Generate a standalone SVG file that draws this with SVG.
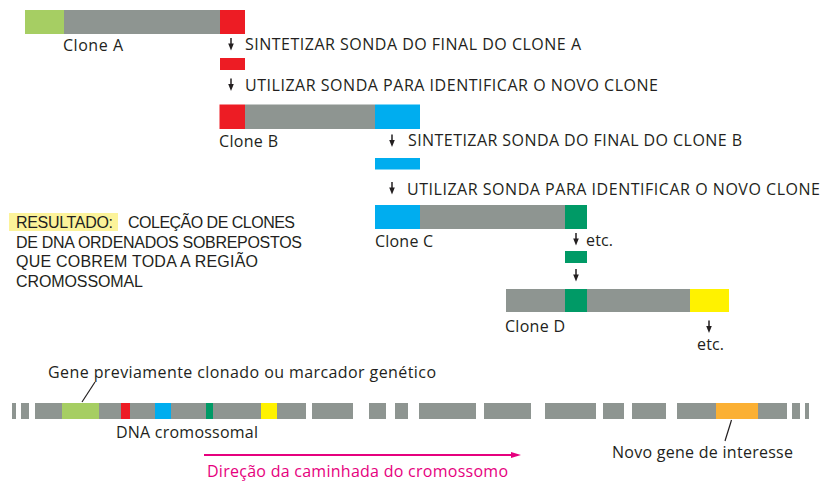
<svg xmlns="http://www.w3.org/2000/svg" width="821" height="482" viewBox="0 0 821 482">
<style>
text{font-family:"Open Sans","Noto Sans","Liberation Sans",sans-serif;font-size:16px;fill:#231f20}
.res text{font-family:"Liberation Sans","Open Sans",sans-serif;font-size:16px}
.g{fill:#8e9591}.lg{fill:#a6ce63}.r{fill:#ed1c24}.b{fill:#00adef}.dg{fill:#009a66}.y{fill:#fff200}.o{fill:#fbb034}
.pink{fill:#e6007e}
.ln{stroke:#231f20;stroke-width:1.2;fill:none}
</style>
<defs>
<g id="dn"><line x1="0" y1="0" x2="0" y2="7" stroke="#231f20" stroke-width="1.5"/><polygon points="-2.8,5.5 2.8,5.5 0,12.5" fill="#231f20"/></g>
</defs>
<rect width="821" height="482" fill="#fff"/>

<g id="cloneA">
<rect class="lg" x="25" y="10" width="39" height="24"/>
<rect class="g" x="64" y="10" width="156" height="24"/>
<rect class="r" x="220" y="10" width="25" height="24"/>
<text x="63" y="51" textLength="60">Clone A</text>
</g>
<g id="step1"><text x="245" y="50" textLength="336">SINTETIZAR SONDA DO FINAL DO CLONE A</text></g>
<g id="probeA"><rect class="r" x="220" y="58" width="25" height="12"/></g>
<g id="step2"><text x="245" y="90.5" textLength="413">UTILIZAR SONDA PARA IDENTIFICAR O NOVO CLONE</text></g>

<g id="cloneB">
<rect class="r" x="219.5" y="104.5" width="25.5" height="24.5"/>
<rect class="g" x="245" y="104.5" width="130" height="24.5"/>
<rect class="b" x="375" y="104.5" width="45" height="24.5"/>
<text x="219" y="147" textLength="59">Clone B</text>
</g>
<g id="step3"><text x="408" y="146" textLength="334">SINTETIZAR SONDA DO FINAL DO CLONE B</text></g>
<g id="probeB"><rect class="b" x="375" y="158" width="45" height="11.5"/></g>
<g id="step4"><text x="407" y="195" textLength="413">UTILIZAR SONDA PARA IDENTIFICAR O NOVO CLONE</text></g>

<g id="cloneC">
<rect class="b" x="375" y="205" width="45" height="24"/>
<rect class="g" x="420" y="205" width="145" height="24"/>
<rect class="dg" x="565" y="205" width="22" height="24"/>
<text x="375" y="247" textLength="58">Clone C</text>
</g>
<g id="etc1"><text x="586" y="246" textLength="27">etc.</text></g>
<g id="probeC"><rect class="dg" x="565" y="251" width="22" height="12"/></g>

<g id="cloneD">
<rect class="g" x="506" y="289" width="59" height="23"/>
<rect class="dg" x="565" y="289" width="22" height="23"/>
<rect class="g" x="587" y="289" width="103" height="23"/>
<rect class="y" x="690" y="289" width="39" height="23"/>
<text x="505" y="331.5" textLength="60">Clone D</text>
</g>
<g id="etc2"><text x="697" y="350" textLength="27">etc.</text></g>

<g id="resultado" class="res">
<rect x="9" y="213" width="109" height="18" fill="#fcf39a"/>
<text x="16" y="228" textLength="97">RESULTADO:</text>
<text x="128" y="228" textLength="167">COLEÇÃO DE CLONES</text>
<text x="16" y="247.5" textLength="286">DE DNA ORDENADOS SOBREPOSTOS</text>
<text x="16" y="267" textLength="242">QUE COBREM TODA A REGIÃO</text>
<text x="16" y="286.5" textLength="127">CROMOSSOMAL</text>
</g>

<g id="chromosome">
<rect class="g" x="12" y="403" width="4" height="16"/>
<rect class="g" x="21" y="403" width="8" height="16"/>
<rect class="g" x="35" y="403" width="27" height="16"/>
<rect class="lg" x="62" y="403" width="37" height="16"/>
<rect class="g" x="99" y="403" width="22" height="16"/>
<rect class="r" x="121" y="403" width="9" height="16"/>
<rect class="g" x="130" y="403" width="25" height="16"/>
<rect class="b" x="155" y="403" width="16" height="16"/>
<rect class="g" x="171" y="403" width="35" height="16"/>
<rect class="dg" x="206" y="403" width="7" height="16"/>
<rect class="g" x="213" y="403" width="48" height="16"/>
<rect class="y" x="261" y="403" width="16" height="16"/>
<rect class="g" x="277" y="403" width="29" height="16"/>
<rect class="g" x="312" y="403" width="41" height="16"/>
<rect class="g" x="369" y="403" width="17" height="16"/>
<rect class="g" x="395" y="403" width="13" height="16"/>
<rect class="g" x="419" y="403" width="57" height="16"/>
<rect class="g" x="484" y="403" width="47" height="16"/>
<rect class="g" x="545" y="403" width="51" height="16"/>
<rect class="g" x="603" y="403" width="21" height="16"/>
<rect class="g" x="632" y="403" width="34" height="16"/>
<rect class="g" x="677" y="403" width="39" height="16"/>
<rect class="o" x="716" y="403" width="42" height="16"/>
<rect class="g" x="758" y="403" width="29" height="16"/>
<rect class="g" x="792" y="403" width="8" height="16"/>
<rect class="g" x="805" y="403" width="4" height="16"/>
<text x="116" y="438" textLength="142">DNA cromossomal</text>
</g>
<g id="geneLabel"><text x="48" y="378" textLength="388">Gene previamente clonado ou marcador genético</text></g>
<g id="novoGene"><text x="612" y="458" textLength="181">Novo gene de interesse</text></g>
<g id="direcao"><text class="pink" x="207" y="477" textLength="301">Direção da caminhada do cromossomo</text></g>

<g id="connectors">
<use href="#dn" x="231" y="38"/>
<use href="#dn" x="231" y="78.5"/>
<use href="#dn" x="392" y="134.5"/>
<use href="#dn" x="392" y="182"/>
<use href="#dn" x="576" y="233"/>
<use href="#dn" x="576" y="269"/>
<use href="#dn" x="709" y="320.5"/>
<line class="ln" x1="95" y1="382" x2="82" y2="402"/>
<line class="ln" x1="731.5" y1="420" x2="725" y2="441"/>
<line x1="204" y1="455" x2="513" y2="455" stroke="#e6007e" stroke-width="2"/>
<polygon class="pink" points="511,452 521,455 511,458"/>
</g>
</svg>
